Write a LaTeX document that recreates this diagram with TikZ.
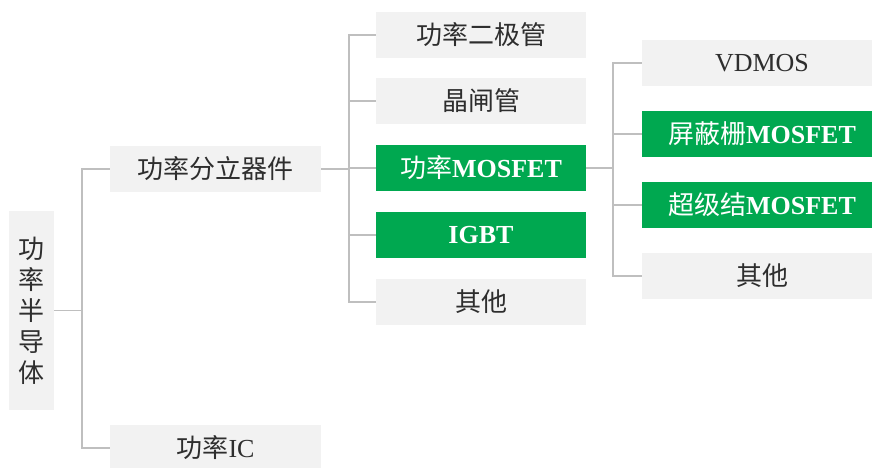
\documentclass[tikz,border=0pt]{standalone}
\usepackage{fontspec}
\setmainfont{Liberation Serif}
\newfontfamily\cjk{Noto Sans CJK SC}
\definecolor{boxgrey}{HTML}{F2F2F2}
\definecolor{boxgreen}{HTML}{00A850}
\definecolor{textgrey}{HTML}{2E2E2E}
\definecolor{linegrey}{HTML}{BFBFBF}
\begin{document}
\begin{tikzpicture}[x=1pt, y=-1pt,
    item/.style={fill=boxgrey, text=textgrey, inner sep=0pt, minimum height=46pt,
        font=\fontsize{26}{31}\selectfont},
    hot/.style={item, fill=boxgreen, text=white},
    link/.style={draw=linegrey, line width=1.5pt}]

    \useasboundingbox (0,0) rectangle (872,468);
    \clip (0,0) rectangle (872,468);

    % Nodes
    \node[item, minimum width=45pt, minimum height=199pt, align=center] at (31.5, 310.5) (root)
        {\cjk 功\\\cjk 率\\\cjk 半\\\cjk 导\\\cjk 体};
    \node[item, minimum width=211pt] at (215.5, 169) (disc) {\cjk 功率分立器件};
    \node[item, minimum width=211pt] at (215.5, 448) (ic) {{\cjk 功率}IC};

    \node[item, minimum width=210pt] at (481, 35) (diode) {\cjk 功率二极管};
    \node[item, minimum width=210pt] at (481, 101) (scr) {\cjk 晶闸管};
    \node[hot, minimum width=210pt] at (481, 168) (mos) {{\cjk 功率}\textbf{MOSFET}};
    \node[hot, minimum width=210pt] at (481, 235) (igbt) {\textbf{IGBT}};
    \node[item, minimum width=210pt] at (481, 302) (other1) {\cjk 其他};

    \node[item, minimum width=240pt] at (762, 63) (vdmos) {VDMOS};
    \node[hot, minimum width=240pt] at (762, 134) (sgt) {{\cjk 屏蔽栅}\textbf{MOSFET}};
    \node[hot, minimum width=240pt] at (762, 205) (sj) {{\cjk 超级结}\textbf{MOSFET}};
    \node[item, minimum width=240pt] at (762, 276) (other2) {\cjk 其他};

    % Trunk points
    \coordinate (t0) at (82, 310.5);
    \coordinate (t1) at (349, 169);
    \coordinate (t2) at (613, 168);

    % Connectors
    \draw[link] (root) -- (t0);
    \draw[link] (t0) |- (disc);
    \draw[link] (t0) |- (ic);

    \draw[link] (disc) -- (t1);
    \foreach \n in {diode, scr, mos, igbt, other1}
        \draw[link] (t1) |- (\n);

    \draw[link] (mos) -- (t2);
    \foreach \n in {vdmos, sgt, sj, other2}
        \draw[link] (t2) |- (\n);

\end{tikzpicture}
\end{document}
